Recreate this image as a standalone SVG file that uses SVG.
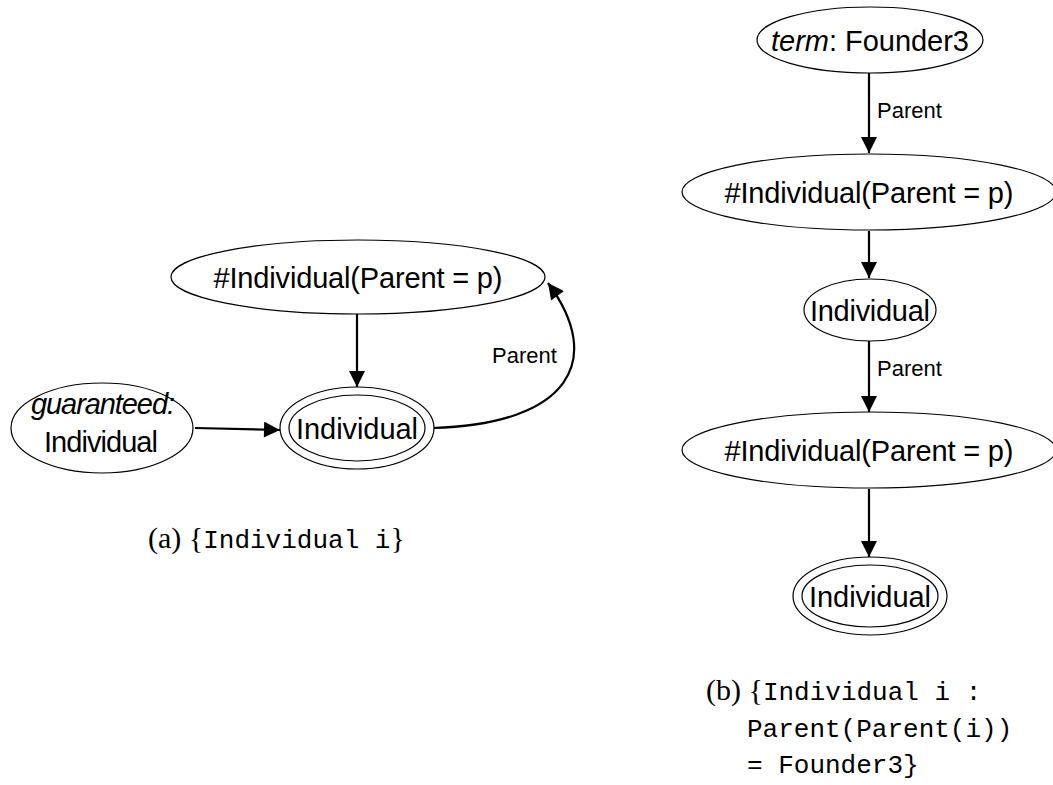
<svg xmlns="http://www.w3.org/2000/svg" width="1053" height="785" viewBox="0 0 1053 785">
<defs>
<marker id="ah" viewBox="0 0 10 10" refX="10" refY="5" markerWidth="17" markerHeight="16" markerUnits="userSpaceOnUse" orient="auto">
<path d="M0,0 L10,5 L0,10 z" fill="#000"/>
</marker>
</defs>
<style>
.n{fill:#fff;stroke:#000;stroke-width:1.2}
.t{font-family:"Liberation Sans",Arial,sans-serif;font-size:29px;fill:#000;text-anchor:middle}
.lbl{font-family:"Liberation Sans",Arial,sans-serif;font-size:22px;fill:#000}
.e{fill:none;stroke:#000;stroke-width:2.2;marker-end:url(#ah)}
.cap{font-family:"Liberation Serif","DejaVu Serif",serif;font-size:30px;fill:#000}
.mono{font-family:"Liberation Mono","DejaVu Sans Mono",monospace;font-size:26px}
</style>
<rect width="1053" height="785" fill="#fff"/>
<g id="connectors">
<path class="e" d="M357,314 L357,387"/>
<path class="e" d="M195,428 L280,430"/>
<path class="e" d="M433,428 C570,424 605,360 548,283"/>
<path class="e" d="M869,73 L869,153"/>
<path class="e" d="M869,231 L869,278"/>
<path class="e" d="M869,341 L869,412"/>
<path class="e" d="M869,489 L869,557"/>
<text class="lbl" x="492" y="363">Parent</text>
<text class="lbl" x="877" y="118">Parent</text>
<text class="lbl" x="877" y="376">Parent</text>
</g>
<g id="a_count">
<ellipse class="n" cx="358" cy="277" rx="187" ry="37"/>
<text class="t" x="358" y="288" textLength="289">#Individual(Parent = p)</text>
</g>
<g id="a_indiv">
<ellipse class="n" cx="357" cy="428" rx="77" ry="41"/>
<ellipse class="n" cx="357" cy="428" rx="68" ry="33"/>
<text class="t" x="357" y="439" textLength="122">Individual</text>
</g>
<g id="a_guar">
<ellipse class="n" cx="102" cy="428" rx="91" ry="45"/>
<text class="t" x="103" y="414" font-style="italic" textLength="144">guaranteed:</text>
<text class="t" x="101" y="452" textLength="114">Individual</text>
</g>
<g id="b_term">
<ellipse class="n" cx="870" cy="40" rx="113" ry="33"/>
<text class="t" x="870" y="51" textLength="198"><tspan font-style="italic">term</tspan>: Founder3</text>
</g>
<g id="b_count1">
<ellipse class="n" cx="869" cy="192" rx="187" ry="38"/>
<text class="t" x="869" y="203" textLength="289">#Individual(Parent = p)</text>
</g>
<g id="b_indiv1">
<ellipse class="n" cx="870" cy="310" rx="66" ry="31"/>
<text class="t" x="870" y="321" textLength="120">Individual</text>
</g>
<g id="b_count2">
<ellipse class="n" cx="869" cy="450" rx="187" ry="38"/>
<text class="t" x="869" y="461" textLength="289">#Individual(Parent = p)</text>
</g>
<g id="b_indiv2">
<ellipse class="n" cx="870" cy="596" rx="77" ry="39"/>
<ellipse class="n" cx="870" cy="596" rx="68" ry="31"/>
<text class="t" x="870" y="607" textLength="122">Individual</text>
</g>
<g id="captions">
<text class="cap" x="148" y="548">(a) {<tspan class="mono">Individual i</tspan>}</text>
<text class="cap" x="706" y="700">(b) {<tspan class="mono">Individual i :</tspan></text>
<text class="cap mono" x="747" y="737">Parent(Parent(i))</text>
<text class="cap mono" x="747" y="773">= Founder3}</text>
</g>
</svg>
